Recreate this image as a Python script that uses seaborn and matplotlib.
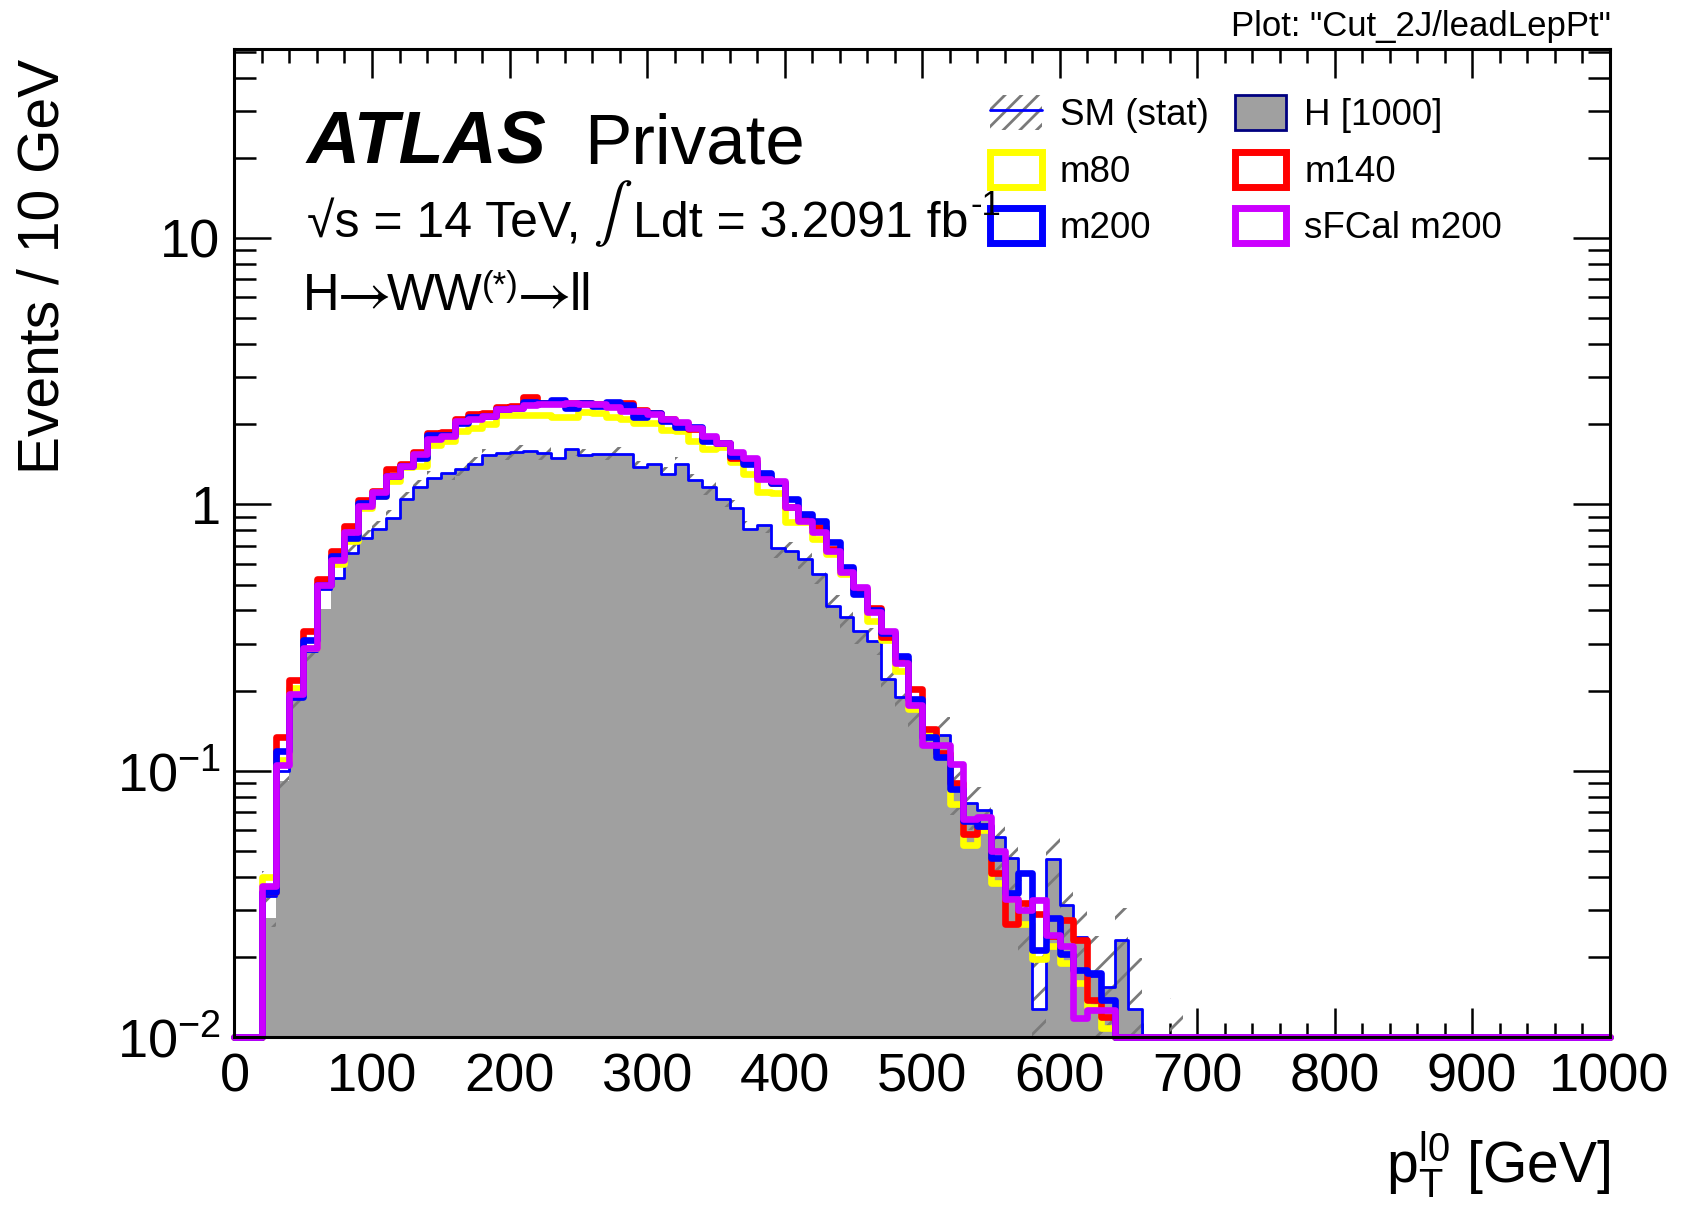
import numpy as np
import matplotlib
matplotlib.use("Agg")
import matplotlib.pyplot as plt
import seaborn as sns
from matplotlib.patches import Patch
from matplotlib.lines import Line2D
from matplotlib.legend_handler import HandlerTuple
from matplotlib.ticker import MultipleLocator, LogLocator, NullFormatter, FixedLocator, FixedFormatter

# ---------------- data (10 GeV bins, values start at the 20 GeV bin) ----------------
BIN_WIDTH = 10
X_MIN, X_MAX = 0, 1000
FIRST_EDGE = 20
Y_MIN, Y_MAX = 0.01, 51

# SM total (blue line, hatched stat band), bins 20..680
sm_total = [0.034, 0.10, 0.189, 0.283, 0.48, 0.53, 0.66, 0.75, 0.81, 0.89,
            1.05, 1.16, 1.26, 1.31, 1.36, 1.42, 1.53, 1.56, 1.58, 1.59,
            1.56, 1.50, 1.61, 1.53, 1.55, 1.55, 1.55, 1.38, 1.42, 1.30,
            1.42, 1.23, 1.16, 1.05, 0.97, 0.81, 0.84, 0.686, 0.67, 0.624,
            0.55, 0.417, 0.377, 0.336, 0.308, 0.222, 0.189, 0.169, 0.14, 0.136,
            0.085, 0.076, 0.0712, 0.0565, 0.0469, 0.030, 0.0128, 0.0465, 0.0313, 0.0238,
            0.017, 0.0155, 0.0232, 0.0128, 0.0, 0.0, 0.006]
# H [1000] (grey filled), bins 20..680
h1000 = [0.028, 0.092, 0.189, 0.283, 0.405, 0.53, 0.66, 0.75, 0.81, 0.89,
         1.05, 1.16, 1.26, 1.31, 1.36, 1.42, 1.53, 1.56, 1.58, 1.59,
         1.56, 1.50, 1.61, 1.53, 1.55, 1.55, 1.55, 1.38, 1.42, 1.30,
         1.42, 1.23, 1.16, 1.05, 0.97, 0.81, 0.84, 0.686, 0.67, 0.624,
         0.55, 0.417, 0.377, 0.336, 0.308, 0.222, 0.189, 0.169, 0.14, 0.136,
         0.085, 0.076, 0.0712, 0.0565, 0.0469, 0.030, 0.0128, 0.0465, 0.0313, 0.0238,
         0.017, 0.0155, 0.0232, 0.0128, 0.0, 0.0, 0.006]
# statistical uncertainty on SM, bins 20..680
sm_err = [0.008, 0.015, 0.021, 0.028, 0.038, 0.042, 0.048, 0.054, 0.058, 0.062,
          0.068, 0.072, 0.075, 0.078, 0.08, 0.082, 0.085, 0.087, 0.087, 0.087,
          0.086, 0.085, 0.088, 0.086, 0.086, 0.086, 0.086, 0.081, 0.082, 0.078,
          0.082, 0.075, 0.073, 0.069, 0.066, 0.06, 0.061, 0.055, 0.053, 0.052,
          0.048, 0.042, 0.039, 0.037, 0.036, 0.03, 0.028, 0.026, 0.024, 0.023,
          0.017, 0.016, 0.016, 0.014, 0.012, 0.009, 0.008, 0.011, 0.009, 0.008,
          0.007, 0.007, 0.0075, 0.007, 0.0, 0.0, 0.008]

# signal-like samples, bins 20..630
m80 = [0.040, 0.11, 0.205, 0.29, 0.50, 0.60, 0.73, 0.97, 1.08, 1.22,
       1.38, 1.40, 1.67, 1.73, 1.89, 1.94, 2.00, 2.17, 2.17, 2.17,
       2.17, 2.13, 2.13, 2.22, 2.20, 2.13, 2.10, 2.02, 2.02, 1.91,
       1.88, 1.73, 1.62, 1.64, 1.44, 1.30, 1.11, 1.10, 0.86, 0.86,
       0.74, 0.65, 0.55, 0.47, 0.364, 0.31, 0.237, 0.17, 0.14, 0.115,
       0.075, 0.0525, 0.06, 0.0379, 0.033, 0.0266, 0.0196, 0.022, 0.019, 0.016,
       0.013, 0.0108]
m140 = [0.035, 0.134, 0.219, 0.336, 0.527, 0.67, 0.827, 1.04, 1.12, 1.36,
        1.42, 1.58, 1.85, 1.87, 2.10, 2.19, 2.20, 2.33, 2.35, 2.52,
        2.40, 2.42, 2.40, 2.40, 2.38, 2.35, 2.40, 2.26, 2.20, 2.10,
        2.02, 1.92, 1.78, 1.70, 1.50, 1.45, 1.27, 1.20, 0.98, 0.88,
        0.82, 0.68, 0.57, 0.48, 0.41, 0.319, 0.26, 0.203, 0.144, 0.117,
        0.09, 0.058, 0.062, 0.0414, 0.0267, 0.0318, 0.029, 0.024, 0.0275, 0.0232,
        0.0138, 0.0119]
m200 = [0.035, 0.119, 0.19, 0.311, 0.50, 0.64, 0.75, 1.01, 1.08, 1.28,
        1.40, 1.50, 1.83, 1.82, 2.03, 2.12, 2.15, 2.28, 2.30, 2.43,
        2.40, 2.47, 2.30, 2.40, 2.35, 2.42, 2.37, 2.13, 2.20, 2.05,
        1.95, 1.95, 1.73, 1.70, 1.52, 1.42, 1.31, 1.20, 1.05, 0.92,
        0.87, 0.72, 0.58, 0.46, 0.40, 0.33, 0.269, 0.186, 0.134, 0.113,
        0.0858, 0.065, 0.062, 0.0469, 0.0347, 0.0412, 0.0212, 0.028, 0.0206, 0.0179,
        0.0174, 0.0138]
sfcal_m200 = [0.037, 0.105, 0.195, 0.29, 0.50, 0.62, 0.785, 0.99, 1.11, 1.28,
              1.40, 1.55, 1.76, 1.81, 2.06, 2.10, 2.15, 2.28, 2.30, 2.37,
              2.38, 2.38, 2.40, 2.38, 2.38, 2.33, 2.25, 2.25, 2.19, 2.09,
              2.04, 1.93, 1.80, 1.70, 1.57, 1.49, 1.25, 1.22, 0.975, 0.87,
              0.79, 0.67, 0.56, 0.49, 0.394, 0.336, 0.255, 0.176, 0.125, 0.125,
              0.106, 0.066, 0.067, 0.050, 0.033, 0.030, 0.0327, 0.0242, 0.022, 0.0118,
              0.0127, 0.0127]

signal_names = ["m80", "m140", "m200", "sFCal m200"]
signal_values = [m80, m140, m200, sfcal_m200]
signal_colors = ["#ffff00", "#ff0000", "#0000ff", "#cc00ff"]

# ---------------- helpers ----------------
edges = np.arange(X_MIN, X_MAX + BIN_WIDTH, BIN_WIDTH)
centers = edges[:-1] + BIN_WIDTH / 2.0
bin_list = [float(e) for e in edges]


def full(vals):
    out = np.zeros(len(centers))
    i0 = (FIRST_EDGE - X_MIN) // BIN_WIDTH
    out[i0:i0 + len(vals)] = vals
    return out


sm_total_f = full(sm_total)
h1000_f = full(h1000)
sm_err_f = full(sm_err)

# ---------------- style ----------------
sns.set_style("ticks")
plt.rcParams.update({
    "font.family": ["Liberation Sans", "DejaVu Sans"],
    "mathtext.fontset": "custom",
    "mathtext.rm": "Liberation Sans",
    "mathtext.it": "Liberation Sans:italic",
    "mathtext.bf": "Liberation Sans:bold",
    "mathtext.sf": "Liberation Sans",
    "axes.edgecolor": "black",
    "axes.linewidth": 2.2,
    "xtick.color": "black",
    "ytick.color": "black",
    "text.color": "black",
    "hatch.linewidth": 2.0,
})

fig = plt.figure(figsize=(16.87, 12.18), dpi=100)
ax = fig.add_axes([0.1390, 0.14836, 0.8151, 0.8110])

# grey filled H[1000]
sns.histplot(x=centers, weights=h1000_f, bins=bin_list, element="step", fill=True,
             color="#a0a0a0", alpha=1, linewidth=0, ax=ax)

# hatched stat band
lo = sm_total_f - sm_err_f
hi = sm_total_f + sm_err_f
ax.fill_between(edges, np.append(lo, lo[-1]), np.append(hi, hi[-1]), step="post",
                facecolor="none", edgecolor="#7a7a7a", hatch="/", linewidth=0, zorder=3)

# SM line
sns.histplot(x=centers, weights=np.clip(sm_total_f, Y_MIN, None), bins=bin_list,
             element="step", fill=False, color="#0000ff", linewidth=2.0, ax=ax, zorder=4)

# signal lines
for name, vals, col in zip(signal_names, signal_values, signal_colors):
    sns.histplot(x=centers, weights=np.clip(full(vals), Y_MIN, None), bins=bin_list,
                 element="step", fill=False, color=col, linewidth=4.8, ax=ax,
                 clip_on=False, zorder=5)

ax.set_yscale("log")
ax.set_xlim(X_MIN, X_MAX)
ax.set_ylim(Y_MIN, Y_MAX)
ax.set_xlabel("")
ax.set_ylabel("")

# ticks
ax.xaxis.set_major_locator(MultipleLocator(100))
ax.xaxis.set_minor_locator(MultipleLocator(20))
ax.yaxis.set_major_locator(FixedLocator([0.01, 0.1, 1, 10]))
ax.yaxis.set_major_formatter(FixedFormatter([r"$10^{-2}$", r"$10^{-1}$", "1", "10"]))
ax.yaxis.set_minor_locator(LogLocator(base=10, subs=np.arange(2, 10)))
ax.yaxis.set_minor_formatter(NullFormatter())
ax.tick_params(axis="both", which="both", direction="in", top=True, right=True,
               width=1.8, labelsize=39, color="black")
ax.tick_params(axis="y", which="major", length=26.6, pad=10)
ax.tick_params(axis="y", which="minor", length=15.5)
ax.tick_params(axis="x", which="major", length=21, pad=11)
ax.tick_params(axis="x", which="minor", length=10)
for sp in ax.spines.values():
    sp.set_visible(True)
    sp.set_linewidth(2.2)
    sp.set_zorder(6)

# axis titles
fig.text(0.0255, 1 - 59 / 1218, "Events / 10 GeV", rotation=90, ha="center", va="top",
         fontsize=41)
fig.text(0.9547, 1 - 1165 / 1218, r"$\mathrm{p}_{\mathrm{T}}^{\mathrm{l0}}$ [GeV]",
         ha="right", va="center", fontsize=41)

# annotations
LIB = "Liberation Sans"


def chain_text(x, y, parts, zorder=10):
    """parts: (text, fontsize, dx_pt, dy_pt, anchor_index or None, extra kwargs)"""
    arts = []
    for txt, fs, dx, dy, anchor, extra in parts:
        if not arts:
            xy, xyc = (x, y), "axes fraction"
        else:
            ref = arts[-1] if anchor is None else arts[anchor]
            xy, xyc = (1, y), (ref, "axes fraction")
        a = ax.annotate(txt, xy=xy, xycoords=xyc, xytext=(dx, dy),
                        textcoords="offset points", va="baseline", ha="left",
                        fontsize=fs, family=LIB, zorder=zorder,
                        annotation_clip=False, **extra)
        arts.append(a)
    return arts


STIX = dict(math_fontfamily="stixsans")

ax.text(0.0527, 0.885, "ATLAS", transform=ax.transAxes, fontsize=53,
        fontweight="bold", fontstyle="italic", va="baseline")
ax.text(0.2542, 0.885, "Private", transform=ax.transAxes, fontsize=51, va="baseline")

chain_text(0.0527, 0.810, [
    ("\u221as = 14 TeV,", 36, 0, 0, None, {}),
    (r"$\int$", 42, 9, 6.4, 0, STIX),
    ("Ldt = 3.2091 fb", 36, 38, 0, 0, {}),
    ("-1", 25, 1, 16, None, {}),
])
chain_text(0.0497, 0.736, [
    ("H", 36.5, 0, 0, None, {}),
    (r"$\rightarrow$", 43, -9, 0, None, STIX),
    ("WW", 36.5, -2, 0, None, {}),
    ("(*)", 25, 0, 10, None, {}),
    (r"$\rightarrow$", 43, -8.5, 0, None, STIX),
    ("ll", 36.5, 0, 0, None, {}),
])

fig.text(0.9547, 1 - 36 / 1218, 'Plot: "Cut_2J/leadLepPt"', ha="right", va="baseline",
         fontsize=25)

# legend
handles = [
    (Patch(facecolor="none", edgecolor="#7a7a7a", hatch="//", linewidth=0),
     Line2D([], [], color="#0000ff", linewidth=2)),
    Patch(facecolor="white", edgecolor=signal_colors[0], linewidth=5),
    Patch(facecolor="white", edgecolor=signal_colors[2], linewidth=5),
    Patch(facecolor="#a0a0a0", edgecolor="#000080", linewidth=2),
    Patch(facecolor="white", edgecolor=signal_colors[1], linewidth=5),
    Patch(facecolor="white", edgecolor=signal_colors[3], linewidth=5),
]
labels = ["SM (stat)", "m80", "m200", "H [1000]", "m140", "sFCal m200"]
leg = ax.legend(handles, labels, ncol=2, loc="upper left",
                bbox_to_anchor=(990 / 1687, 1 - 95 / 1218), bbox_transform=fig.transFigure,
                frameon=False, fontsize=26.5, handlelength=1.4, handleheight=1.1,
                handletextpad=0.5, columnspacing=0.7, labelspacing=0.5, borderpad=0,
                borderaxespad=0, handler_map={tuple: HandlerTuple(ndivide=1)})
leg.set_zorder(8)

fig.savefig("out.png", dpi=100)
